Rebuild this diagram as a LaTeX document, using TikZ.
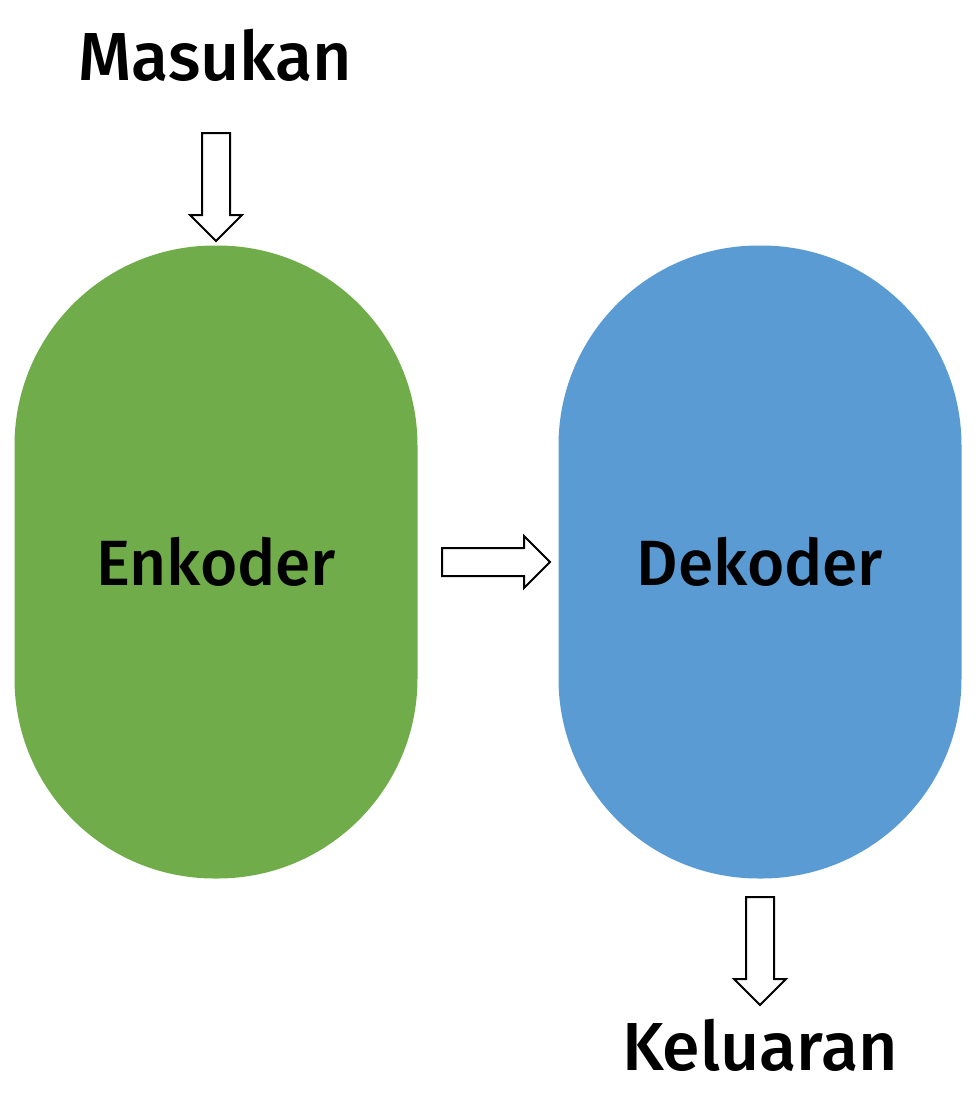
\documentclass[tikz,border=0pt]{standalone}
\usepackage{fontspec}
\setmainfont{Fira Sans Medium}
\usetikzlibrary{shapes.arrows}
\definecolor{enkgreen}{HTML}{70AD4A}
\definecolor{dekblue}{HTML}{5B9BD3}
\begin{document}
\begin{tikzpicture}[x=1pt, y=-1pt,
    blok/.style={rounded corners=200pt, minimum width=403pt, minimum height=633pt, inner sep=0pt, font=\fontsize{64}{70}\selectfont},
    panah/.style={single arrow, draw=black, line width=2pt, fill=white, single arrow head extend=12pt,
      inner xsep=0pt, inner ysep=13pt, minimum height=108pt},
    label/.style={font=\fontsize{68}{76}\selectfont}]
  \useasboundingbox (0, 0) rectangle (976, 1104);

  % blocks
  \node[blok, fill=enkgreen] (enkoder) at (216, 562) {Enkoder};
  \node[blok, fill=dekblue] (dekoder) at (760, 562) {Dekoder};

  % texts
  \node[label] (masukan) at (215, 55) {Masukan};
  \node[label] (keluaran) at (760, 1045) {Keluaran};

  % arrows
  \node[panah, rotate=-90] (a1) at (216, 180) {};
  \node[panah] (a2) at (489, 562) {};
  \node[panah, rotate=-90] (a3) at (760, 944) {};
\end{tikzpicture}
\end{document}
